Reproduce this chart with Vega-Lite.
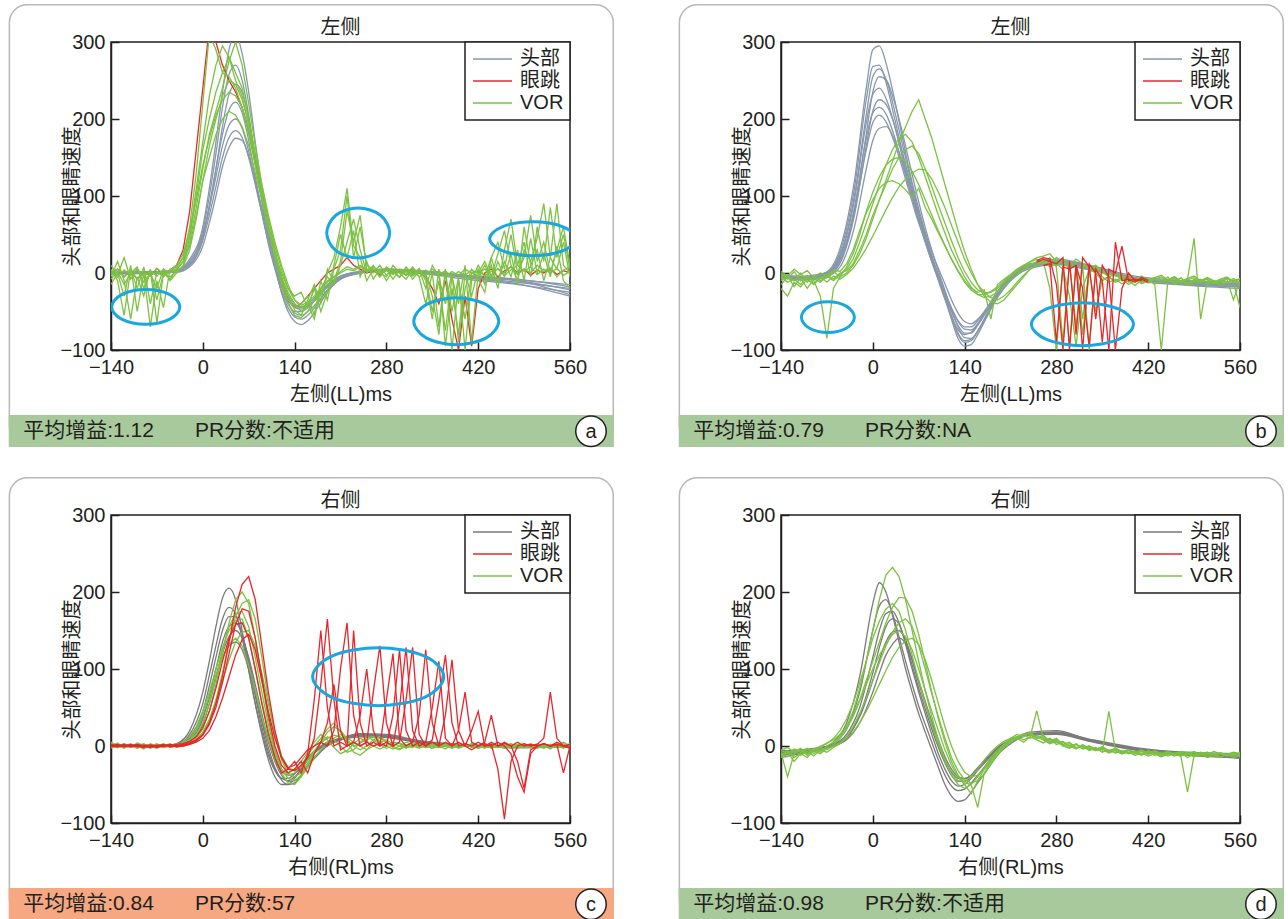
{
"$schema": "https://vega.github.io/schema/vega-lite/v6.json",
"background": "white",
"padding": {"left": 7, "top": 3, "right": 0, "bottom": 0},
"bounds": "flush",
"columns": 2,
"spacing": {"row": 165, "column": 211},
"resolve": {"scale": {"color": "independent"}, "legend": {"color": "independent"}},
"config": {
 "font": "Liberation Sans, Noto Sans CJK SC, sans-serif",
 "view": {"stroke": "#231f20", "strokeWidth": 1.5},
 "axis": {"grid": false, "domainColor": "#231f20", "domainWidth": 1.5, "tickColor": "#231f20", "tickWidth": 1.5, "tickSize": -8, "labelFontSize": 20, "labelColor": "#231f20", "titleFontSize": 20, "titleFontWeight": "normal", "titleColor": "#231f20", "labelFlush": false, "labelOverlap": false},
 "axisX": {"labelPadding": 15, "titlePadding": 7},
 "axisY": {"labelPadding": 14, "titleX": -39, "titleBaseline": "middle", "titleAlign": "center"},
 "legend": {"orient": "top-right", "offset": 0, "padding": 6, "fillColor": "white", "strokeColor": "#231f20", "strokeWidth": 1.5, "symbolType": "stroke", "symbolSize": 1521, "symbolStrokeWidth": 1.5, "symbolOffset": 1, "labelFontSize": 20, "labelColor": "#231f20", "labelOffset": 7, "clipHeight": 22, "rowPadding": 0}
},
"concat": [
{
 "width": 459, "height": 308,
 "layer": [
  {"data": {"values": [{}]}, "mark": {"type": "rect", "cornerRadius": 18, "fill": "transparent", "stroke": "#b8b8b8", "strokeWidth": 1.5}, "encoding": {"x": {"datum": -295, "type": "quantitative", "scale": {"domain": [-140, 560], "nice": false, "zero": false}}, "x2": {"datum": 626}, "y": {"datum": 348.5, "type": "quantitative", "scale": {"domain": [-100, 300], "nice": false, "zero": false}}, "y2": {"datum": -222}}},
  {"data": {"values": [{}]}, "mark": {"type": "rect", "fill": "#a8c99b"}, "encoding": {"x": {"datum": -296, "type": "quantitative", "scale": {"domain": [-140, 560], "nice": false, "zero": false}}, "x2": {"datum": 627}, "y": {"datum": -184.5, "type": "quantitative", "scale": {"domain": [-100, 300], "nice": false, "zero": false}}, "y2": {"datum": -226}}},
  {"data": {"values": [{}]}, "mark": {"type": "text", "align": "center", "baseline": "middle", "fontSize": 20, "color": "#231f20"}, "encoding": {"x": {"datum": 210, "type": "quantitative", "scale": {"domain": [-140, 560], "nice": false, "zero": false}}, "y": {"datum": 318.5, "type": "quantitative", "scale": {"domain": [-100, 300], "nice": false, "zero": false}}, "text": {"value": "左侧"}}},
  {"data": {"values": [{}]}, "mark": {"type": "text", "align": "left", "baseline": "middle", "fontSize": 21, "color": "#231f20"}, "encoding": {"x": {"datum": -274, "type": "quantitative", "scale": {"domain": [-140, 560], "nice": false, "zero": false}}, "y": {"datum": -205, "type": "quantitative", "scale": {"domain": [-100, 300], "nice": false, "zero": false}}, "text": {"value": "平均增益:1.12"}}},
  {"data": {"values": [{}]}, "mark": {"type": "text", "align": "left", "baseline": "middle", "fontSize": 21, "color": "#231f20"}, "encoding": {"x": {"datum": -12, "type": "quantitative", "scale": {"domain": [-140, 560], "nice": false, "zero": false}}, "y": {"datum": -205, "type": "quantitative", "scale": {"domain": [-100, 300], "nice": false, "zero": false}}, "text": {"value": "PR分数:不适用"}}},
  {"data": {"values": [{}]}, "mark": {"type": "point", "shape": "circle", "size": 930, "filled": true, "fill": "white", "stroke": "#231f20", "strokeWidth": 1.5, "opacity": 1}, "encoding": {"x": {"datum": 592, "type": "quantitative", "scale": {"domain": [-140, 560], "nice": false, "zero": false}}, "y": {"datum": -205.5, "type": "quantitative", "scale": {"domain": [-100, 300], "nice": false, "zero": false}}}},
  {"data": {"values": [{}]}, "mark": {"type": "text", "align": "center", "baseline": "middle", "fontSize": 20, "color": "#231f20"}, "encoding": {"x": {"datum": 592, "type": "quantitative", "scale": {"domain": [-140, 560], "nice": false, "zero": false}}, "y": {"datum": -206, "type": "quantitative", "scale": {"domain": [-100, 300], "nice": false, "zero": false}}, "text": {"value": "a"}}},
  {"encoding": {
    "x": {"field": "t", "type": "quantitative", "scale": {"domain": [-140, 560], "nice": false, "zero": false}, "axis": {"title": "左侧(LL)ms", "values": [-140, 0, 140, 280, 420, 560]}},
    "y": {"field": "v", "type": "quantitative", "scale": {"domain": [-100, 300], "nice": false, "zero": false}, "axis": {"title": "头部和眼睛速度", "values": [-100, 0, 100, 200, 300]}}},
   "layer": [
  {"data": {"values": [{"t":[-140,-110,-80,-60,-40,-20,0,10,20,30,40,50,60,70,80,90,100,110,120,130,140,150,160,175,190,210,240,280,330,400,480,560],
"h1":[0,2,1,2,4,18,60,110,170,235,290,310,285,235,170,110,55,12,-25,-50,-63,-67,-62,-45,-25,-8,0,3,0,-8,-15,-25],
"h2":[-2,0,2,1,3,15,55,100,155,215,258,270,250,205,150,95,45,8,-25,-45,-57,-60,-55,-40,-22,-6,2,4,2,-5,-12,-20],
"h3":[1,0,-1,0,2,10,45,85,135,190,232,245,235,200,150,100,55,18,-15,-38,-52,-55,-50,-38,-22,-8,0,5,3,-3,-10,-28],
"h4":[0,-1,0,1,2,12,48,88,135,180,212,222,208,172,125,80,38,5,-22,-40,-50,-50,-45,-32,-18,-5,1,4,1,-4,-8,-18],
"h5":[-1,1,0,0,3,14,50,85,125,165,192,200,188,158,118,78,40,8,-18,-35,-45,-47,-43,-30,-16,-4,2,5,2,-6,-14,-30],
"h6":[0,0,1,0,2,10,42,75,112,150,176,185,176,150,115,78,42,10,-15,-32,-42,-44,-40,-28,-15,-4,1,3,0,-5,-10,-22],
"h7":[1,0,0,1,1,8,35,65,100,138,163,175,172,152,120,85,50,18,-8,-28,-40,-45,-42,-32,-18,-6,0,4,2,-3,-9,-15]}]},
   "transform": [{"flatten": ["t","h1","h2","h3","h4","h5","h6","h7"]}, {"fold": ["h1","h2","h3","h4","h5","h6","h7"], "as": ["k","v"]}],
   "mark": {"type": "line", "clip": true, "strokeWidth": 1.3, "interpolate": "monotone"},
   "encoding": {"detail": {"field": "k"}, "color": {"datum": "头部", "type": "nominal", "scale": {"domain": ["头部","眼跳","VOR"], "range": ["#8797ab","#e8252b","#7cc143"]}, "legend": {"title": null, "encode": {"symbols": {"update": {"stroke": {"signal": "datum.value === '头部' ? '#808080' : datum.value === '眼跳' ? '#e8252b' : '#7cc143'"}}}}}}}},
  {"data": {"values": [{"t":[-140,-130,-120,-110,-100,-90,-80,-70,-60,-50,-40,-30,-20,-10,0,10,20,30,40,50,60,70,80,90,100,110,120,130,140,150,160,170,180,190,200,210,220,230,240,250,260,270,280,290,300,310,320,330,340,350,360,370,380,390,400,410,420,430,440,450,460,470,480,490,500,510,520,530,540,550,560],
"s1":[0,5,-5,3,-8,2,-4,6,-2,4, 10,30,80,160,240,320,300,270,250,235, 215,185,145,100,60,25,-10,-35,-45,-40, -30,-20,-10,0,5,10,20,10,5,0, 3,-2,4,0,2,-3,5,0,-5,-20, -40,-10,-60,-100,-30,-95,-20,0,5,-5, 3,8,0,5,-3,4,0,6,-2,3, 0]}]},
   "transform": [{"flatten": ["t","s1"]}, {"fold": ["s1"], "as": ["k","v"]}],
   "mark": {"type": "line", "clip": true, "strokeWidth": 1.3},
   "encoding": {"detail": {"field": "k"}, "color": {"datum": "眼跳", "type": "nominal", "scale": {"domain": ["头部","眼跳","VOR"], "range": ["#8797ab","#e8252b","#7cc143"]}, "legend": {"title": null, "encode": {"symbols": {"update": {"stroke": {"signal": "datum.value === '头部' ? '#808080' : datum.value === '眼跳' ? '#e8252b' : '#7cc143'"}}}}}}}},
  {"data": {"values": [{"t":[-140,-130,-120,-110,-100,-90,-80,-70,-60,-50,-40,-30,-20,-10,0,10,20,30,40,50,60,70,80,90,100,110,120,130,140,150,160,170,180,190,200,210,220,230,240,250,260,270,280,290,300,310,320,330,340,350,360,370,380,390,400,410,420,430,440,450,460,470,480,490,500,510,520,530,540,550,560],
"v1":[5,-10,-55,5,-20,8,-40,2,-5,3, 8,20,60,130,220,310,290,260,280,250, 230,190,140,95,55,20,-10,-35,-45,-40, -30,-55,-10,-35,5,30,100,20,60,10, 5,-5,8,2,-6,5,-3,6,-10,-60, 5,-95,-20,-80,0,-30,5,-15,10,-20, 30,70,10,40,-5,60,15,85,20,50, 5],
"v2":[-5,15,-10,-60,-5,-30,5,-65,0,-8, 5,15,45,100,160,200,235,260,255,240, 215,180,140,100,60,25,-5,-30,-48,-55, -35,-15,-40,5,-10,15,80,40,75,5, 0,10,-3,5,0,-8,5,-5,-40,0, -70,5,-100,-10,-60,0,-5,10,-10,15, -5,25,-15,60,10,30,-10,20,90,10, 0],
"v3":[0,5,-5,3,-8,2,-4,6,-2,4, 10,25,55,95,140,175,205,225,235,230, 215,185,150,110,70,35,5,-20,-35,-42, -38,-30,-20,-12,-5,0,5,3,8,2, 5,0,4,-2,3,0,-4,2,-3,5, -2,3,-5,2,-3,4,0,5,-3,6, 0,8,-2,5,0,10,2,6,-5,4, 8],
"v4":[10,-3,20,-8,5,-12,0,-20,5,-10, 0,10,40,85,135,180,210,240,275,300, 270,220,165,115,70,30,-5,-25,-40,-50, -45,-20,-50,-25,10,50,20,55,-5,15, -8,5,-10,3,-5,8,-2,5,-20,10, -5,-40,0,-90,-20,5,-8,-25,20,-10, 15,-5,30,-10,45,0,25,-5,35,-10, -20],
"v5":[-15,0,-30,10,-50,0,-70,-10,-45,5, 2,8,30,70,120,165,200,230,250,245, 225,195,155,115,75,40,10,-15,-35,-45, -40,-60,-20,-5,-15,10,40,70,30,0, 10,-5,5,-8,4,-3,8,-5,0,-30, -80,0,-50,-5,-100,-10,10,-5,20,40, 5,50,0,20,75,15,40,0,30,60, 10],
"v6":[3,-6,4,-3,6,-5,3,-4,5,0, 6,20,50,110,170,230,270,295,280,260, 240,200,150,105,60,20,-15,-40,-55,-58, -50,-35,-20,-10,-5,2,8,5,10,4, 8,3,6,0,5,2,6,0,4,-2, 3,-5,2,-3,5,0,3,-4,2,5, -3,4,10,2,8,-2,5,0,6,-3, 2],
"v7":[-8,2,-15,0,8,-20,2,-35,0,-5, 3,15,35,75,120,150,180,200,210,205, 190,165,130,95,60,25,0,-20,-30,-25, -45,-20,-30,0,20,60,110,35,20,-10, 5,0,-5,10,0,5,-8,2,-5,-50, -10,-75,-5,-40,10,-90,0,15,-5,25, 55,10,-10,30,15,45,90,20,5,40, -5]}]},
   "transform": [{"flatten": ["t","v1","v2","v3","v4","v5","v6","v7"]}, {"fold": ["v1","v2","v3","v4","v5","v6","v7"], "as": ["k","v"]}],
   "mark": {"type": "line", "clip": true, "strokeWidth": 1.3},
   "encoding": {"detail": {"field": "k"}, "color": {"datum": "VOR", "type": "nominal", "scale": {"domain": ["头部","眼跳","VOR"], "range": ["#8797ab","#e8252b","#7cc143"]}, "legend": {"title": null, "encode": {"symbols": {"update": {"stroke": {"signal": "datum.value === '头部' ? '#808080' : datum.value === '眼跳' ? '#e8252b' : '#7cc143'"}}}}}}}},
  {"data": {"values": [
    {"k": "e1", "t": [-35,-50.2,-87,-123.8,-139,-123.8,-87,-50.2], "v": [-44,-28,-21.3,-28,-44,-60,-66.7,-60]},
    {"k": "e2", "t": [285,271,237,203,189,203,237,271], "v": [52,75,84.5,75,52,29,19.5,29]},
    {"k": "e3", "t": [451.3,432.3,386.5,340.7,321.7,340.7,386.5,432.3], "v": [-62.6,-41,-32.1,-41,-62.6,-84.2,-93.1,-84.2]},
    {"k": "e4", "t": [568.6,549.4,503,456.6,437.4,456.6,503,549.4], "v": [44.5,60,66.5,60,44.5,29,22.5,29]}]},
   "transform": [{"flatten": ["t","v"]}],
   "mark": {"type": "line", "interpolate": "cardinal-closed", "stroke": "#1aa7e0", "strokeWidth": 3, "clip": true},
   "encoding": {"detail": {"field": "k"}, "order": {"value": null}}}
   ]}
 ]
},
{
 "width": 459, "height": 308,
 "layer": [
  {"data": {"values": [{}]}, "mark": {"type": "rect", "cornerRadius": 18, "fill": "transparent", "stroke": "#b8b8b8", "strokeWidth": 1.5}, "encoding": {"x": {"datum": -295, "type": "quantitative", "scale": {"domain": [-140, 560], "nice": false, "zero": false}}, "x2": {"datum": 626}, "y": {"datum": 348.5, "type": "quantitative", "scale": {"domain": [-100, 300], "nice": false, "zero": false}}, "y2": {"datum": -222}}},
  {"data": {"values": [{}]}, "mark": {"type": "rect", "fill": "#a8c99b"}, "encoding": {"x": {"datum": -296, "type": "quantitative", "scale": {"domain": [-140, 560], "nice": false, "zero": false}}, "x2": {"datum": 627}, "y": {"datum": -184.5, "type": "quantitative", "scale": {"domain": [-100, 300], "nice": false, "zero": false}}, "y2": {"datum": -226}}},
  {"data": {"values": [{}]}, "mark": {"type": "text", "align": "center", "baseline": "middle", "fontSize": 20, "color": "#231f20"}, "encoding": {"x": {"datum": 210, "type": "quantitative", "scale": {"domain": [-140, 560], "nice": false, "zero": false}}, "y": {"datum": 318.5, "type": "quantitative", "scale": {"domain": [-100, 300], "nice": false, "zero": false}}, "text": {"value": "左侧"}}},
  {"data": {"values": [{}]}, "mark": {"type": "text", "align": "left", "baseline": "middle", "fontSize": 21, "color": "#231f20"}, "encoding": {"x": {"datum": -274, "type": "quantitative", "scale": {"domain": [-140, 560], "nice": false, "zero": false}}, "y": {"datum": -205, "type": "quantitative", "scale": {"domain": [-100, 300], "nice": false, "zero": false}}, "text": {"value": "平均增益:0.79"}}},
  {"data": {"values": [{}]}, "mark": {"type": "text", "align": "left", "baseline": "middle", "fontSize": 21, "color": "#231f20"}, "encoding": {"x": {"datum": -12, "type": "quantitative", "scale": {"domain": [-140, 560], "nice": false, "zero": false}}, "y": {"datum": -205, "type": "quantitative", "scale": {"domain": [-100, 300], "nice": false, "zero": false}}, "text": {"value": "PR分数:NA"}}},
  {"data": {"values": [{}]}, "mark": {"type": "point", "shape": "circle", "size": 930, "filled": true, "fill": "white", "stroke": "#231f20", "strokeWidth": 1.5, "opacity": 1}, "encoding": {"x": {"datum": 592, "type": "quantitative", "scale": {"domain": [-140, 560], "nice": false, "zero": false}}, "y": {"datum": -205.5, "type": "quantitative", "scale": {"domain": [-100, 300], "nice": false, "zero": false}}}},
  {"data": {"values": [{}]}, "mark": {"type": "text", "align": "center", "baseline": "middle", "fontSize": 20, "color": "#231f20"}, "encoding": {"x": {"datum": 592, "type": "quantitative", "scale": {"domain": [-140, 560], "nice": false, "zero": false}}, "y": {"datum": -206, "type": "quantitative", "scale": {"domain": [-100, 300], "nice": false, "zero": false}}, "text": {"value": "b"}}},
  {"encoding": {
    "x": {"field": "t", "type": "quantitative", "scale": {"domain": [-140, 560], "nice": false, "zero": false}, "axis": {"title": "左侧(LL)ms", "values": [-140, 0, 140, 280, 420, 560]}},
    "y": {"field": "v", "type": "quantitative", "scale": {"domain": [-100, 300], "nice": false, "zero": false}, "axis": {"title": "头部和眼睛速度", "values": [-100, 0, 100, 200, 300]}}},
   "layer": [
  {"data": {"values": [{"t":[-140,-110,-85,-65,-47,-28,-10,0,10,21,32,43,54,65,76,87,98,109,120,130,140,150,160,175,190,210,240,280,330,400,480,560],
"h1":[-5,-8,-5,5,40,120,240,290,295,270,230,185,140,100,65,30,0,-30,-60,-85,-95,-93,-80,-55,-30,-8,10,18,10,-8,-15,-18],
"h2":[-3,-6,-3,4,30,100,205,255,265,250,215,175,135,95,60,28,0,-28,-55,-78,-88,-86,-75,-52,-28,-6,12,15,8,-6,-12,-15],
"h3":[-8,-5,-6,0,20,80,180,235,255,250,225,190,150,110,72,38,8,-20,-48,-70,-84,-85,-76,-55,-32,-10,8,14,6,-10,-16,-20],
"h4":[-2,-4,-2,3,28,95,195,232,240,225,195,158,120,85,52,22,-5,-32,-56,-74,-80,-77,-66,-45,-24,-4,10,16,10,-4,-10,-12],
"h5":[-6,-9,-7,-2,18,75,165,210,225,218,195,162,128,92,60,30,3,-22,-45,-63,-73,-74,-66,-48,-28,-8,8,12,5,-9,-14,-18],
"h6":[-4,-6,-4,2,22,78,160,195,205,195,172,142,110,78,50,22,-3,-26,-46,-62,-70,-70,-62,-44,-25,-6,9,13,7,-6,-11,-14],
"h7":[-7,-5,-8,-3,12,60,135,172,188,190,175,150,120,90,62,35,10,-12,-35,-52,-63,-66,-60,-45,-27,-9,6,11,4,-8,-13,-16],
"h8":[-6,-7,-4,3,35,110,225,268,270,245,205,165,125,88,55,25,-2,-30,-58,-80,-90,-88,-76,-52,-28,-7,11,16,9,-7,-13,-16],
"h9":[-5,-6,-5,1,24,85,175,208,215,205,180,148,115,82,52,25,0,-25,-50,-68,-78,-78,-68,-48,-27,-7,9,14,6,-7,-12,-15]}]},
   "transform": [{"flatten": ["t","h1","h2","h3","h4","h5","h6","h7","h8","h9"]}, {"fold": ["h1","h2","h3","h4","h5","h6","h7","h8","h9"], "as": ["k","v"]}],
   "mark": {"type": "line", "clip": true, "strokeWidth": 1.3, "interpolate": "monotone"},
   "encoding": {"detail": {"field": "k"}, "color": {"datum": "头部", "type": "nominal", "scale": {"domain": ["头部","眼跳","VOR"], "range": ["#8797ab","#e8252b","#7cc143"]}, "legend": {"title": null, "encode": {"symbols": {"update": {"stroke": {"signal": "datum.value === '头部' ? '#808080' : datum.value === '眼跳' ? '#e8252b' : '#7cc143'"}}}}}}}},
  {"data": {"values": [{"t":[-140,-130,-120,-110,-100,-90,-80,-70,-60,-50,-40,-30,-20,-10,0,10,20,30,40,50,60,70,80,90,100,110,120,130,140,150,160,170,180,190,200,210,220,230,240,250,260,270,280,290,300,310,320,330,340,350,360,370,380,390,400,410,420,430,440,450,460,470,480,490,500,510,520,530,540,550,560],
"v1":[-5,-12,-8,-15,-5,-10,-30,-85,-20,-5, 0,10,25,45,70,95,120,145,170,190, 210,225,200,175,145,115,85,55,28,5, -15,-30,-38,-40,-35,-25,-15,-5,5,10, 15,-20,-100,10,-95,15,-60,5,0,-10, -5,-12,-8,-15,-10,-12,-8,-15,-100,-10, -12,-6,-15,-10,-8,-14,-10,-12,-8,-35, -10],
"v2":[-10,-3,-18,-6,-20,-8,-12,-4,-10,-2, 5,18,40,65,90,115,140,160,175,180, 170,150,125,100,75,52,30,12,-5,-18, -28,-32,-30,-25,-18,-10,-3,5,10,15, 12,18,8,-90,15,-70,10,-100,5,-5, -12,-8,-14,-10,-16,-9,-13,-7,-12,-5, -15,-10,-8,45,-60,-10,-14,-9,-12,-7, -12],
"v3":[0,-8,2,-10,-3,-14,-6,-2,-8,0, 3,12,30,50,75,95,115,135,150,160, 165,155,135,112,88,65,42,20,2,-12, -22,-26,-25,-20,-12,-5,2,8,12,10, 14,8,12,5,-30,-95,-20,5,-50,-8, -5,-10,-6,-12,-8,-14,-10,-6,-12,-9, -5,-11,-14,-8,-12,-6,-10,-13,-7,-10, -8],
"v4":[-15,-5,-10,0,-12,-4,-10,-6,2,-5, 8,25,50,80,105,125,140,148,150,145, 132,115,95,75,55,36,18,2,-12,-22, -28,-28,-24,-18,-10,-3,4,10,14,18, 12,20,10,15,5,10,-80,0,8,2, -5,-2,-8,-4,-10,-6,-12,-8,-5,-10, -7,-13,-9,-6,-11,-8,-14,-10,-6,-12, -45],
"v5":[-20,-30,-12,-18,-8,-15,-5,-12,-4,-8, -2,6,18,32,48,65,82,98,112,122, 130,135,134,122,105,85,62,40,18,0, -15,-25,-32,-35,-30,-22,-12,-3,5,10, 16,12,20,15,10,18,12,6,10,3, 0,-3,-6,-9,-7,-11,-9,-14,-11,-8, -13,-10,-16,-12,-9,-14,-11,-16,-12,-9, -14],
"v6":[2,-4,5,-2,3,-6,0,-3,4,2, 12,30,55,78,95,110,118,120,116,108, 98,110,85,70,52,35,18,3,-10,-20, -25,-22,-60,-15,-8,-2,5,10,15,20, 22,25,15,18,12,8,10,5,8,0, -3,2,-5,-2,-8,-4,-10,-6,-3,-9, -5,-11,-7,-4,-10,-6,-12,-8,-5,-11, -7]}]},
   "transform": [{"flatten": ["t","v1","v2","v3","v4","v5","v6"]}, {"fold": ["v1","v2","v3","v4","v5","v6"], "as": ["k","v"]}],
   "mark": {"type": "line", "clip": true, "strokeWidth": 1.3},
   "encoding": {"detail": {"field": "k"}, "color": {"datum": "VOR", "type": "nominal", "scale": {"domain": ["头部","眼跳","VOR"], "range": ["#8797ab","#e8252b","#7cc143"]}, "legend": {"title": null, "encode": {"symbols": {"update": {"stroke": {"signal": "datum.value === '头部' ? '#808080' : datum.value === '眼跳' ? '#e8252b' : '#7cc143'"}}}}}}}},
  {"data": {"values": [
    {"k": "s1", "t": [250,260,270,280,290,300,310,320,330,340,350,360,370,380,390,400,410,420], "v": [14,18,15,12,20,-100,10,-20,-95,5,-10,-100,40,-10,-8,-12,-6,-10]},
    {"k": "s2", "t": [250,260,270,280,290,300,310,320,330,340,350,360,370,380,390,400,410,420], "v": [16,20,18,-15,-100,15,-80,20,8,-60,10,-5,-100,-20,0,-10,-8,-12]},
    {"k": "s3", "t": [260,270,280,290,300,310,320,330,340,350,360,370,380,390,400,410], "v": [10,12,-90,8,5,10,-100,12,0,-90,5,0,35,-10,-8,-10]}]},
   "transform": [{"flatten": ["t","v"]}],
   "mark": {"type": "line", "clip": true, "strokeWidth": 1.3},
   "encoding": {"detail": {"field": "k"}, "color": {"datum": "眼跳", "type": "nominal", "scale": {"domain": ["头部","眼跳","VOR"], "range": ["#8797ab","#e8252b","#7cc143"]}, "legend": {"title": null, "encode": {"symbols": {"update": {"stroke": {"signal": "datum.value === '头部' ? '#808080' : datum.value === '眼跳' ? '#e8252b' : '#7cc143'"}}}}}}}},
  {"data": {"values": [
    {"k": "e5", "t": [-28.1,-39.9,-68.5,-97.1,-108.9,-97.1,-68.5,-39.9], "v": [-57.4,-43.3,-37.4,-43.3,-57.4,-71.5,-77.4,-71.5]},
    {"k": "e6", "t": [397.5,374.7,319.7,264.7,241.9,264.7,319.7,374.7], "v": [-66.5,-46.7,-38.5,-46.7,-66.5,-86.3,-94.5,-86.3]}]},
   "transform": [{"flatten": ["t","v"]}],
   "mark": {"type": "line", "interpolate": "cardinal-closed", "stroke": "#1aa7e0", "strokeWidth": 3, "clip": true},
   "encoding": {"detail": {"field": "k"}, "order": {"value": null}}}
   ]}
 ]
},
{
 "width": 459, "height": 308,
 "layer": [
  {"data": {"values": [{}]}, "mark": {"type": "rect", "cornerRadius": 18, "fill": "transparent", "stroke": "#b8b8b8", "strokeWidth": 1.5}, "encoding": {"x": {"datum": -295, "type": "quantitative", "scale": {"domain": [-140, 560], "nice": false, "zero": false}}, "x2": {"datum": 626}, "y": {"datum": 348.5, "type": "quantitative", "scale": {"domain": [-100, 300], "nice": false, "zero": false}}, "y2": {"datum": -222}}},
  {"data": {"values": [{}]}, "mark": {"type": "rect", "fill": "#f6a882"}, "encoding": {"x": {"datum": -296, "type": "quantitative", "scale": {"domain": [-140, 560], "nice": false, "zero": false}}, "x2": {"datum": 627}, "y": {"datum": -184.5, "type": "quantitative", "scale": {"domain": [-100, 300], "nice": false, "zero": false}}, "y2": {"datum": -226}}},
  {"data": {"values": [{}]}, "mark": {"type": "text", "align": "center", "baseline": "middle", "fontSize": 20, "color": "#231f20"}, "encoding": {"x": {"datum": 210, "type": "quantitative", "scale": {"domain": [-140, 560], "nice": false, "zero": false}}, "y": {"datum": 318.5, "type": "quantitative", "scale": {"domain": [-100, 300], "nice": false, "zero": false}}, "text": {"value": "右侧"}}},
  {"data": {"values": [{}]}, "mark": {"type": "text", "align": "left", "baseline": "middle", "fontSize": 21, "color": "#231f20"}, "encoding": {"x": {"datum": -274, "type": "quantitative", "scale": {"domain": [-140, 560], "nice": false, "zero": false}}, "y": {"datum": -205, "type": "quantitative", "scale": {"domain": [-100, 300], "nice": false, "zero": false}}, "text": {"value": "平均增益:0.84"}}},
  {"data": {"values": [{}]}, "mark": {"type": "text", "align": "left", "baseline": "middle", "fontSize": 21, "color": "#231f20"}, "encoding": {"x": {"datum": -12, "type": "quantitative", "scale": {"domain": [-140, 560], "nice": false, "zero": false}}, "y": {"datum": -205, "type": "quantitative", "scale": {"domain": [-100, 300], "nice": false, "zero": false}}, "text": {"value": "PR分数:57"}}},
  {"data": {"values": [{}]}, "mark": {"type": "point", "shape": "circle", "size": 930, "filled": true, "fill": "white", "stroke": "#231f20", "strokeWidth": 1.5, "opacity": 1}, "encoding": {"x": {"datum": 592, "type": "quantitative", "scale": {"domain": [-140, 560], "nice": false, "zero": false}}, "y": {"datum": -205.5, "type": "quantitative", "scale": {"domain": [-100, 300], "nice": false, "zero": false}}}},
  {"data": {"values": [{}]}, "mark": {"type": "text", "align": "center", "baseline": "middle", "fontSize": 20, "color": "#231f20"}, "encoding": {"x": {"datum": 592, "type": "quantitative", "scale": {"domain": [-140, 560], "nice": false, "zero": false}}, "y": {"datum": -206, "type": "quantitative", "scale": {"domain": [-100, 300], "nice": false, "zero": false}}, "text": {"value": "c"}}},
  {"encoding": {
    "x": {"field": "t", "type": "quantitative", "scale": {"domain": [-140, 560], "nice": false, "zero": false}, "axis": {"title": "右侧(RL)ms", "values": [-140, 0, 140, 280, 420, 560]}},
    "y": {"field": "v", "type": "quantitative", "scale": {"domain": [-100, 300], "nice": false, "zero": false}, "axis": {"title": "头部和眼睛速度", "values": [-100, 0, 100, 200, 300]}}},
   "layer": [
  {"data": {"values": [{"t":[-140,-110,-80,-60,-40,-20,0,10,20,30,40,50,60,70,80,90,100,110,120,130,140,150,160,175,190,210,240,280,330,400,480,560],
"h1":[0,1,-1,0,3,20,70,110,155,192,205,190,150,100,55,15,-18,-40,-50,-50,-42,-30,-18,-5,3,8,14,12,5,0,-2,0],
"h2":[1,0,0,1,2,15,55,92,130,165,180,172,140,98,55,18,-12,-32,-42,-42,-36,-26,-15,-3,5,10,15,13,6,1,-1,1],
"h3":[-1,0,1,0,2,12,45,78,115,150,168,168,145,108,65,25,-8,-30,-42,-45,-40,-30,-18,-5,4,10,16,15,7,2,0,-1],
"h4":[0,-1,0,1,1,8,35,65,100,135,155,160,145,112,72,32,-2,-28,-44,-50,-48,-38,-25,-10,2,9,15,14,6,1,-1,0],
"h5":[1,0,-1,0,1,6,28,55,88,120,142,150,140,115,80,42,8,-20,-38,-46,-45,-38,-26,-12,0,8,14,13,5,0,-2,-1],
"h6":[0,1,0,-1,2,10,38,62,90,115,130,135,125,100,68,35,5,-18,-32,-38,-36,-28,-18,-6,3,8,12,11,4,0,-1,0]}]},
   "transform": [{"flatten": ["t","h1","h2","h3","h4","h5","h6"]}, {"fold": ["h1","h2","h3","h4","h5","h6"], "as": ["k","v"]}],
   "mark": {"type": "line", "clip": true, "strokeWidth": 1.3, "interpolate": "monotone"},
   "encoding": {"detail": {"field": "k"}, "color": {"datum": "头部", "type": "nominal", "scale": {"domain": ["头部","眼跳","VOR"], "range": ["#7a7a7a","#e8252b","#7cc143"]}, "legend": {"title": null, "encode": {"symbols": {"update": {"stroke": {"signal": "datum.value === '头部' ? '#808080' : datum.value === '眼跳' ? '#e8252b' : '#7cc143'"}}}}}}}},
  {"data": {"values": [{"t":[-140,-130,-120,-110,-100,-90,-80,-70,-60,-50,-40,-30,-20,-10,0,10,20,30,40,50,60,70,80,90,100,110,120,130,140,150,160,170,180,190,200,210,220,230,240,250,260,270,280,290,300,310,320,330,340,350,360,370,380,390,400,410,420,430,440,450,460,470,480,490,500,510,520,530,540,550,560],
"v1":[5,0,3,-2,4,1,-3,2,0,3, -2,2,5,10,22,45,80,120,160,190, 200,185,140,85,35,-5,-30,-42,-45,-38, -25,-10,5,18,25,20,10,5,0,-5, 0,5,8,3,0,-3,2,0,-2,3, 0,-4,2,0,3,-2,0,2,-3,0, 4,1,-2,2,0,3,-1,2,0,-3, 2],
"v2":[0,4,-2,2,0,-4,3,0,2,-1, 3,0,2,6,15,32,60,95,135,168, 185,190,165,115,60,15,-18,-35,-40,-35, -22,-8,5,12,8,0,-8,-5,5,12, 8,2,-3,0,4,0,-2,3,0,-3, 2,0,-2,3,0,2,-3,0,2,-1, 0,3,0,-2,2,0,-3,1,3,0, -2],
"v3":[-3,2,0,3,-2,2,0,-3,2,0, 2,4,8,15,30,55,90,125,155,172, 175,155,115,70,28,-8,-30,-38,-35,-25, -12,0,10,22,30,18,5,-8,-12,-5, 5,10,5,-2,-5,0,4,2,-2,0, 3,0,-3,0,2,0,-2,3,0,-2, 1,-3,2,0,-2,2,0,-4,2,5, 0],
"v4":[2,-2,3,0,-3,0,2,0,-2,2, 0,5,12,25,45,70,100,128,150,163, 165,140,100,58,20,-12,-35,-48,-50,-40, -28,-15,-5,5,10,15,8,0,-5,0, 8,12,6,0,-4,2,0,-3,2,0, -2,3,0,-2,0,3,0,-3,2,0, -2,2,0,3,-2,0,2,-2,0,3, -3],
"v5":[0,-2,2,0,2,-2,0,3,-2,0, 2,0,3,8,18,35,58,85,112,135, 148,150,130,95,55,18,-12,-28,-32,-28, -18,-6,4,10,14,12,6,0,4,8, 12,6,0,-4,0,5,2,-2,0,3, -2,0,2,-3,0,2,0,-2,3,0, -3,0,2,-2,0,-3,2,0,-2,0, 3],
"v6":[3,0,-3,2,0,3,-2,0,3,-2, 0,3,8,20,40,65,92,115,132,140, 130,105,72,38,8,-18,-32,-35,-30,-20, -8,5,15,8,-2,-10,-6,3,10,6, 0,-4,0,5,3,-2,0,3,0,-3, 0,2,0,-2,3,0,-3,0,2,-2, 0,2,-3,0,3,0,-2,2,0,-2, 0]}]},
   "transform": [{"flatten": ["t","v1","v2","v3","v4","v5","v6"]}, {"fold": ["v1","v2","v3","v4","v5","v6"], "as": ["k","v"]}],
   "mark": {"type": "line", "clip": true, "strokeWidth": 1.3},
   "encoding": {"detail": {"field": "k"}, "color": {"datum": "VOR", "type": "nominal", "scale": {"domain": ["头部","眼跳","VOR"], "range": ["#7a7a7a","#e8252b","#7cc143"]}, "legend": {"title": null, "encode": {"symbols": {"update": {"stroke": {"signal": "datum.value === '头部' ? '#808080' : datum.value === '眼跳' ? '#e8252b' : '#7cc143'"}}}}}}}},
  {"data": {"values": [{"t":[-140,-130,-120,-110,-100,-90,-80,-70,-60,-50,-40,-30,-20,-10,0,10,20,30,40,50,60,70,80,90,100,110,120,130,140,150,160,170,180,190,200,210,220,230,240,250,260,270,280,290,300,310,320,330,340,350,360,370,380,390,400,410,420,430,440,450,460,470,480,490,500,510,520,530,540,550,560],
"s1":[0,2,-1,1,0,-2,1,0,2,-1, 0,2,4,8,15,30,55,90,135,180, 210,220,190,130,70,20,-15,-30,-32,-25, -15,10,80,165,60,-5,0,5,0,5, 0,3,0,40,125,20,0,5,0,8, 60,118,30,0,3,0,5,0,2,-30, -95,-20,0,3,0,2,10,70,10,0, -3],
"s2":[2,0,2,-1,1,0,-2,1,0,2, 0,1,3,7,14,28,50,82,120,158, 178,175,140,90,40,0,-25,-35,-30,-20, -35,-10,5,0,20,100,160,40,0,5, 70,130,30,0,5,60,128,15,0,5, 0,40,112,20,0,-5,0,3,0,5, 0,-10,-40,-60,-10,0,3,0,2,-35, 0],
"s3":[-1,1,0,2,-1,1,0,-2,1,0, 2,3,6,12,24,45,75,110,140,158, 160,140,100,55,15,-15,-35,-30,-20,-35, -10,60,150,50,0,5,0,150,30,0, 5,0,60,120,10,0,5,40,125,30, 0,5,0,20,70,5,0,5,40,0, 5,0,-20,-55,-5,0,3,0,5,0, 2],
"s4":[1,-1,1,0,2,0,1,-1,0,1, -1,0,2,5,10,20,38,62,90,118, 138,145,125,85,45,10,-15,-28,-25,-15, -5,0,5,30,80,20,0,5,40,100, 20,0,5,0,50,128,20,0,5,50, 110,10,0,5,0,20,45,0,5,0, 3,0,5,0,2,0,3,0,2,0, -2]}]},
   "transform": [{"flatten": ["t","s1","s2","s3","s4"]}, {"fold": ["s1","s2","s3","s4"], "as": ["k","v"]}],
   "mark": {"type": "line", "clip": true, "strokeWidth": 1.3},
   "encoding": {"detail": {"field": "k"}, "color": {"datum": "眼跳", "type": "nominal", "scale": {"domain": ["头部","眼跳","VOR"], "range": ["#7a7a7a","#e8252b","#7cc143"]}, "legend": {"title": null, "encode": {"symbols": {"update": {"stroke": {"signal": "datum.value === '头部' ? '#808080' : datum.value === '眼跳' ? '#e8252b' : '#7cc143'"}}}}}}}},
  {"data": {"values": [
    {"k": "e7", "t": [367.5,338.2,267.5,196.8,167.5,196.8,267.5,338.2], "v": [90,116.7,127.7,116.7,90,63.3,52.3,63.3]}]},
   "transform": [{"flatten": ["t","v"]}],
   "mark": {"type": "line", "interpolate": "cardinal-closed", "stroke": "#1aa7e0", "strokeWidth": 3, "clip": true},
   "encoding": {"detail": {"field": "k"}, "order": {"value": null}}}
   ]}
 ]
},
{
 "width": 459, "height": 308,
 "layer": [
  {"data": {"values": [{}]}, "mark": {"type": "rect", "cornerRadius": 18, "fill": "transparent", "stroke": "#b8b8b8", "strokeWidth": 1.5}, "encoding": {"x": {"datum": -295, "type": "quantitative", "scale": {"domain": [-140, 560], "nice": false, "zero": false}}, "x2": {"datum": 626}, "y": {"datum": 348.5, "type": "quantitative", "scale": {"domain": [-100, 300], "nice": false, "zero": false}}, "y2": {"datum": -222}}},
  {"data": {"values": [{}]}, "mark": {"type": "rect", "fill": "#a8c99b"}, "encoding": {"x": {"datum": -296, "type": "quantitative", "scale": {"domain": [-140, 560], "nice": false, "zero": false}}, "x2": {"datum": 627}, "y": {"datum": -184.5, "type": "quantitative", "scale": {"domain": [-100, 300], "nice": false, "zero": false}}, "y2": {"datum": -226}}},
  {"data": {"values": [{}]}, "mark": {"type": "text", "align": "center", "baseline": "middle", "fontSize": 20, "color": "#231f20"}, "encoding": {"x": {"datum": 210, "type": "quantitative", "scale": {"domain": [-140, 560], "nice": false, "zero": false}}, "y": {"datum": 318.5, "type": "quantitative", "scale": {"domain": [-100, 300], "nice": false, "zero": false}}, "text": {"value": "右侧"}}},
  {"data": {"values": [{}]}, "mark": {"type": "text", "align": "left", "baseline": "middle", "fontSize": 21, "color": "#231f20"}, "encoding": {"x": {"datum": -274, "type": "quantitative", "scale": {"domain": [-140, 560], "nice": false, "zero": false}}, "y": {"datum": -205, "type": "quantitative", "scale": {"domain": [-100, 300], "nice": false, "zero": false}}, "text": {"value": "平均增益:0.98"}}},
  {"data": {"values": [{}]}, "mark": {"type": "text", "align": "left", "baseline": "middle", "fontSize": 21, "color": "#231f20"}, "encoding": {"x": {"datum": -12, "type": "quantitative", "scale": {"domain": [-140, 560], "nice": false, "zero": false}}, "y": {"datum": -205, "type": "quantitative", "scale": {"domain": [-100, 300], "nice": false, "zero": false}}, "text": {"value": "PR分数:不适用"}}},
  {"data": {"values": [{}]}, "mark": {"type": "point", "shape": "circle", "size": 930, "filled": true, "fill": "white", "stroke": "#231f20", "strokeWidth": 1.5, "opacity": 1}, "encoding": {"x": {"datum": 592, "type": "quantitative", "scale": {"domain": [-140, 560], "nice": false, "zero": false}}, "y": {"datum": -205.5, "type": "quantitative", "scale": {"domain": [-100, 300], "nice": false, "zero": false}}}},
  {"data": {"values": [{}]}, "mark": {"type": "text", "align": "center", "baseline": "middle", "fontSize": 20, "color": "#231f20"}, "encoding": {"x": {"datum": 592, "type": "quantitative", "scale": {"domain": [-140, 560], "nice": false, "zero": false}}, "y": {"datum": -206, "type": "quantitative", "scale": {"domain": [-100, 300], "nice": false, "zero": false}}, "text": {"value": "d"}}},
  {"encoding": {
    "x": {"field": "t", "type": "quantitative", "scale": {"domain": [-140, 560], "nice": false, "zero": false}, "axis": {"title": "右侧(RL)ms", "values": [-140, 0, 140, 280, 420, 560]}},
    "y": {"field": "v", "type": "quantitative", "scale": {"domain": [-100, 300], "nice": false, "zero": false}, "axis": {"title": "头部和眼睛速度", "values": [-100, 0, 100, 200, 300]}}},
   "layer": [
  {"data": {"values": [{"t":[-140,-110,-80,-60,-40,-20,0,10,20,30,40,50,60,70,80,90,100,110,120,130,140,150,160,175,190,210,240,280,330,400,480,560],
"h1":[-15,-10,-5,5,30,90,185,212,200,170,135,100,70,42,18,-5,-28,-50,-65,-72,-70,-60,-48,-30,-12,3,15,18,8,-5,-12,-15],
"h2":[-10,-8,-3,3,22,70,150,182,190,172,142,110,80,52,28,5,-18,-38,-52,-58,-56,-48,-38,-22,-6,6,16,17,7,-4,-10,-12],
"h3":[-8,-6,-2,2,15,50,115,150,172,175,160,132,100,70,42,15,-10,-30,-45,-52,-50,-42,-32,-18,-4,7,18,20,8,-3,-8,-10],
"h4":[-12,-9,-4,0,10,40,95,128,155,165,158,135,105,75,48,22,-2,-22,-38,-46,-46,-40,-30,-16,-3,8,16,18,9,-2,-9,-14],
"h5":[-6,-5,-2,1,12,38,85,112,135,148,150,138,112,82,55,28,3,-18,-34,-42,-43,-38,-28,-15,-2,8,15,16,7,-4,-10,-13],
"h6":[-9,-7,-3,0,8,30,70,95,118,132,140,133,112,85,58,32,8,-14,-30,-40,-42,-38,-29,-16,-4,6,14,15,6,-5,-11,-16]}]},
   "transform": [{"flatten": ["t","h1","h2","h3","h4","h5","h6"]}, {"fold": ["h1","h2","h3","h4","h5","h6"], "as": ["k","v"]}],
   "mark": {"type": "line", "clip": true, "strokeWidth": 1.3, "interpolate": "monotone"},
   "encoding": {"detail": {"field": "k"}, "color": {"datum": "头部", "type": "nominal", "scale": {"domain": ["头部","眼跳","VOR"], "range": ["#7a7a7a","#e8252b","#7cc143"]}, "legend": {"title": null, "encode": {"symbols": {"update": {"stroke": {"signal": "datum.value === '头部' ? '#808080' : datum.value === '眼跳' ? '#e8252b' : '#7cc143'"}}}}}}}},
  {"data": {"values": [{"t":[-140,-130,-120,-110,-100,-90,-80,-70,-60,-50,-40,-30,-20,-10,0,10,20,30,40,50,60,70,80,90,100,110,120,130,140,150,160,170,180,190,200,210,220,230,240,250,260,270,280,290,300,310,320,330,340,350,360,370,380,390,400,410,420,430,440,450,460,470,480,490,500,510,520,530,540,550,560],
"v1":[-8,-40,-10,-5,-12,-3,-8,0,5,12, 25,45,75,110,150,190,222,232,220,190, 150,110,72,38,8,-18,-38,-50,-55,-50, -40,-28,-15,-5,2,8,12,15,10,14, 8,3,6,0,-3,2,-4,-2,-6,-3, -8,-5,-9,-6,-10,-7,-11,-8,-12,-9, -13,-10,-12,-8,-11,-9,-13,-10,-12,-9, -11],
"v2":[-12,-6,-15,-9,-4,-10,-2,4,8,15, 25,40,60,85,110,135,160,180,193,192, 175,145,108,70,35,5,-20,-38,-48,-50, -80,-35,-20,-8,2,10,15,12,18,10, 14,6,10,2,5,-2,0,-5,-2,-8, 45,-6,-10,-5,-9,-12,-6,-10,-14,-8, -12,-9,-15,-10,-13,-8,-12,-15,-10,-13, -8],
"v3":[-5,-2,-8,-3,-10,-5,0,3,10,20, 35,55,82,110,140,162,178,185,175,150, 118,85,55,28,2,-20,-36,-45,-46,-40, -30,-18,-8,0,6,10,12,8,12,46, 10,4,8,2,-2,3,-3,0,-5,-2, -7,-4,-8,-5,-9,-6,-10,-7,-11,-8, -10,-7,-9,-12,-8,-11,-7,-10,-12,-9, -12],
"v4":[-10,-14,-6,-12,-7,-13,-5,-8,-2,3, 12,25,42,62,85,108,130,148,160,165, 155,130,100,68,38,10,-15,-32,-44,-48, -45,-36,-24,-12,-2,6,12,16,14,10, 12,5,8,0,3,-3,0,-6,-3,-8, -5,-9,-6,-10,-7,-11,-8,-12,-9,-13, -10,-14,-60,-12,-9,-13,-10,-14,-11,-15, -12],
"v5":[-15,-8,-20,-10,-15,-6,-10,-3,2,10, 22,38,58,80,100,118,132,145,150,142, 125,100,72,45,20,-5,-25,-40,-50,-62, -45,-30,-18,-8,0,6,10,5,12,8, 4,9,2,5,0,-4,2,-3,-6,-4, -9,-6,-10,-8,-12,-9,-13,-10,-14,-11, -9,-13,-10,-14,-11,-15,-12,-9,-13,-10, -14],
"v6":[-6,-10,-4,-8,-3,-7,-2,-5,0,4, 10,18,30,45,62,80,98,115,128,137, 140,132,112,85,55,25,0,-20,-34,-40, -38,-30,-20,-10,-2,5,10,14,16,12, 8,10,4,6,0,2,-3,0,-4,-1, -6,-3,-7,-5,-8,-5,-9,-6,-10,-7, -11,-8,-10,-7,-11,-8,-12,-9,-11,-8, -10]}]},
   "transform": [{"flatten": ["t","v1","v2","v3","v4","v5","v6"]}, {"fold": ["v1","v2","v3","v4","v5","v6"], "as": ["k","v"]}],
   "mark": {"type": "line", "clip": true, "strokeWidth": 1.3},
   "encoding": {"detail": {"field": "k"}, "color": {"datum": "VOR", "type": "nominal", "scale": {"domain": ["头部","眼跳","VOR"], "range": ["#7a7a7a","#e8252b","#7cc143"]}, "legend": {"title": null, "encode": {"symbols": {"update": {"stroke": {"signal": "datum.value === '头部' ? '#808080' : datum.value === '眼跳' ? '#e8252b' : '#7cc143'"}}}}}}}}
   ]}
 ]
}
]
}
